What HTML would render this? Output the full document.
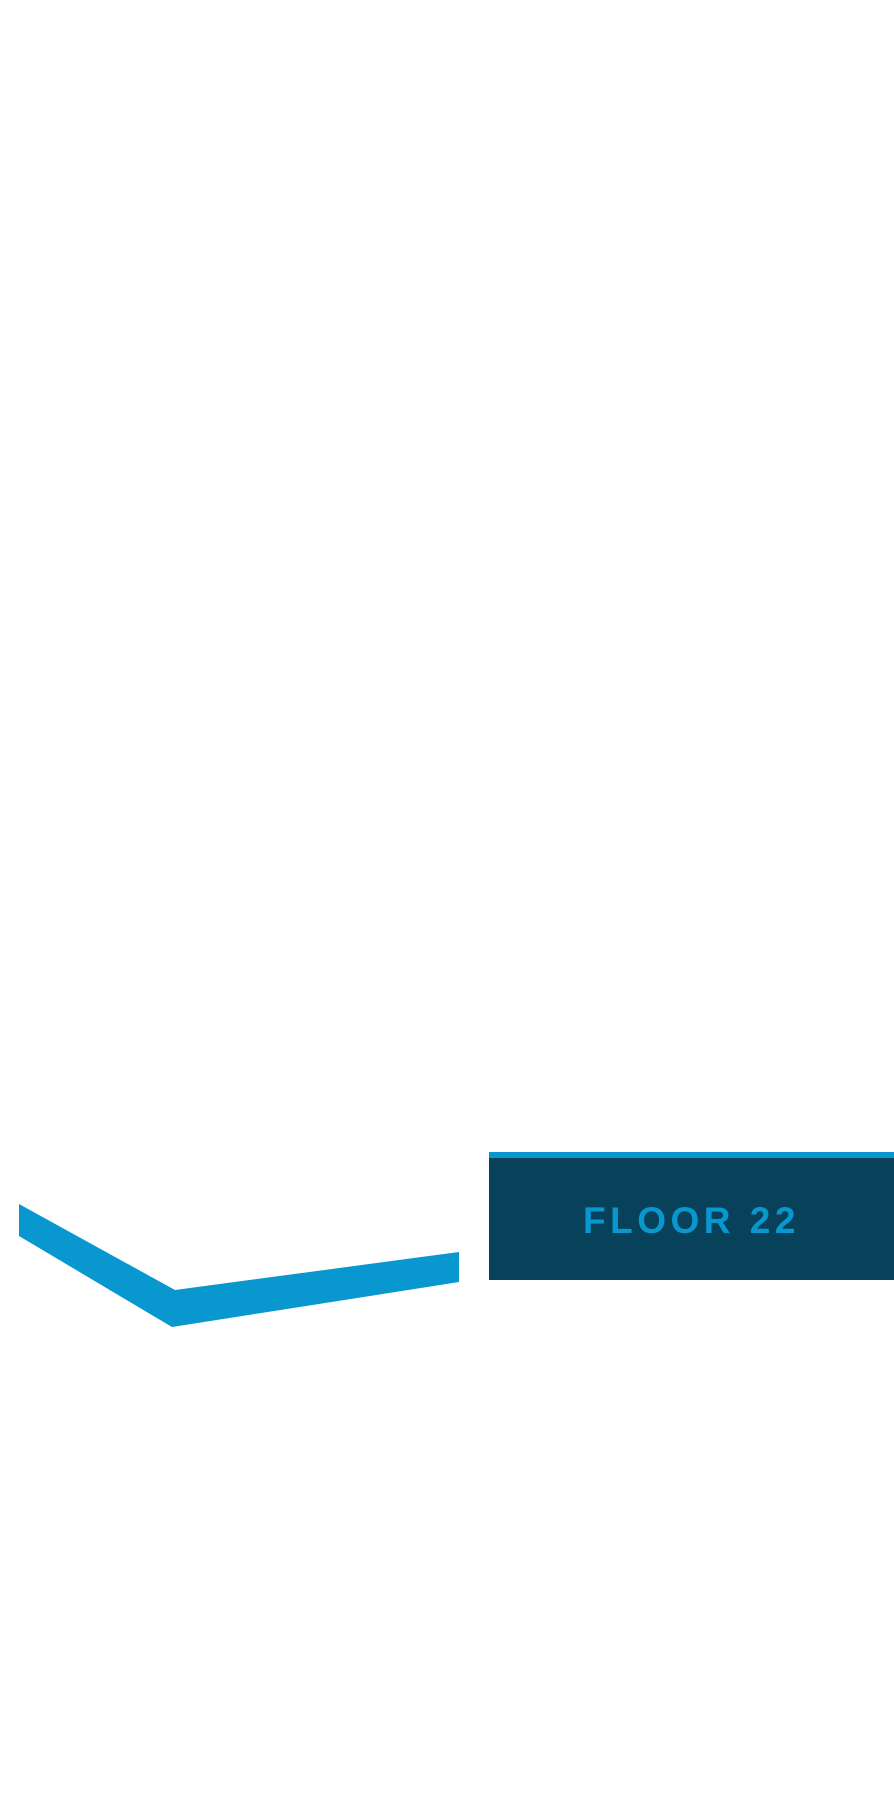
<!DOCTYPE html>
<html><head><style>
html,body{margin:0;padding:0;background:#fff;}
body{width:894px;height:1800px;position:relative;overflow:hidden;}
.box{position:absolute;left:489px;top:1152px;width:405px;height:128px;background:#08415a;}
.strip{position:absolute;left:489px;top:1152px;width:405px;height:6px;background:#0897cf;}
.t{position:absolute;left:583px;top:1199px;width:240px;height:44px;font-family:"Liberation Sans",sans-serif;font-weight:bold;font-size:37px;line-height:44px;color:#0897cf;letter-spacing:4.5px;white-space:nowrap;}
</style></head><body>
<svg width="894" height="1800" style="position:absolute;left:0;top:0">
<polygon points="19,1204 175,1290 459,1252 459,1282 172,1327 19,1236" fill="#0897cf"/>
</svg>
<div class="box"></div>
<div class="strip"></div>
<div class="t">FLOOR 22</div>
</body></html>
